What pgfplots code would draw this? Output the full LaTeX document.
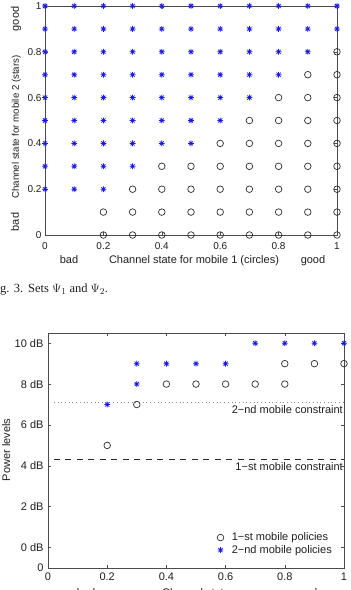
\documentclass[border=0pt]{standalone}
\usepackage{pgfplots}
\pgfplotsset{compat=1.18}
\usepackage{pgfplotstable}
\usepackage{fontspec}
\setmainfont{Liberation Sans}
\newfontfamily\capfont{Liberation Serif}

\definecolor{starblue}{RGB}{25,25,235}
\definecolor{ringgray}{RGB}{45,45,45}
\definecolor{axgray}{RGB}{75,75,75}
\definecolor{txt}{RGB}{30,30,30}

% eight-spoke asterisk, as in MATLAB's '*' marker
\pgfdeclareplotmark{mstar}{%
  \pgfmathsetlengthmacro{\d}{0.7071*\pgfplotmarksize}%
  \pgfpathmoveto{\pgfqpoint{-\pgfplotmarksize}{0pt}}%
  \pgfpathlineto{\pgfqpoint{\pgfplotmarksize}{0pt}}%
  \pgfpathmoveto{\pgfqpoint{0pt}{-\pgfplotmarksize}}%
  \pgfpathlineto{\pgfqpoint{0pt}{\pgfplotmarksize}}%
  \pgfpathmoveto{\pgfqpoint{-\d}{-\d}}%
  \pgfpathlineto{\pgfqpoint{\d}{\d}}%
  \pgfpathmoveto{\pgfqpoint{-\d}{\d}}%
  \pgfpathlineto{\pgfqpoint{\d}{-\d}}%
  \pgfusepathqstroke}

% Fig. 3: channel-state pairs assigned to mobile 1 (circles) and mobile 2 (stars)
\pgfplotstableread{
x   y
0.2 0.0
0.3 0.0
0.4 0.0
0.5 0.0
0.6 0.0
0.7 0.0
0.8 0.0
0.9 0.0
1.0 0.0
0.2 0.1
0.3 0.1
0.4 0.1
0.5 0.1
0.6 0.1
0.7 0.1
0.8 0.1
0.9 0.1
1.0 0.1
0.3 0.2
0.4 0.2
0.5 0.2
0.6 0.2
0.7 0.2
0.8 0.2
0.9 0.2
1.0 0.2
0.4 0.3
0.5 0.3
0.6 0.3
0.7 0.3
0.8 0.3
0.9 0.3
1.0 0.3
0.6 0.4
0.7 0.4
0.8 0.4
0.9 0.4
1.0 0.4
0.7 0.5
0.8 0.5
0.9 0.5
1.0 0.5
0.8 0.6
0.9 0.6
1.0 0.6
0.9 0.7
1.0 0.7
1.0 0.8
}\setOne

\pgfplotstableread{
x   y
0.0 0.2
0.1 0.2
0.2 0.2
0.0 0.3
0.1 0.3
0.2 0.3
0.3 0.3
0.0 0.4
0.1 0.4
0.2 0.4
0.3 0.4
0.4 0.4
0.5 0.4
0.0 0.5
0.1 0.5
0.2 0.5
0.3 0.5
0.4 0.5
0.5 0.5
0.6 0.5
0.0 0.6
0.1 0.6
0.2 0.6
0.3 0.6
0.4 0.6
0.5 0.6
0.6 0.6
0.7 0.6
0.0 0.7
0.1 0.7
0.2 0.7
0.3 0.7
0.4 0.7
0.5 0.7
0.6 0.7
0.7 0.7
0.8 0.7
0.0 0.8
0.1 0.8
0.2 0.8
0.3 0.8
0.4 0.8
0.5 0.8
0.6 0.8
0.7 0.8
0.8 0.8
0.9 0.8
0.0 0.9
0.1 0.9
0.2 0.9
0.3 0.9
0.4 0.9
0.5 0.9
0.6 0.9
0.7 0.9
0.8 0.9
0.9 0.9
1.0 0.9
0.0 1.0
0.1 1.0
0.2 1.0
0.3 1.0
0.4 1.0
0.5 1.0
0.6 1.0
0.7 1.0
0.8 1.0
0.9 1.0
1.0 1.0
}\setTwo

% Power levels (dB) chosen per channel state
\pgfplotstableread{
x   p
0.2 5
0.3 7
0.4 8
0.5 8
0.6 8
0.7 8
0.8 8
0.8 9
0.9 9
1.0 9
}\polOne

\pgfplotstableread{
x   p
0.2 7
0.3 8
0.3 9
0.4 9
0.5 9
0.6 9
0.7 10
0.8 10
0.9 10
1.0 10
}\polTwo

\pgfplotsset{
  matlab/.style={
    scale only axis, clip=false, anchor=south west,
    axis line style={axgray, line width=0.6pt},
    tick align=inside, major tick length=3.2pt,
    every tick/.style={axgray, line width=0.5pt},
    xtick pos=both, ytick pos=both,
    xticklabel pos=lower, yticklabel pos=left,
    ticklabel style={text=txt},
    /pgf/number format/assume math mode=true,
  },
  ring/.style={only marks, mark=o, mark size=3.3pt, ringgray, line width=0.7pt},
  star/.style={only marks, mark=mstar, mark size=2.9pt, starblue, line width=0.75pt},
}

\newcommand{\lab}{\fontsize{11}{13}\selectfont}

\begin{document}
\begin{tikzpicture}[x=1pt,y=1pt]
\useasboundingbox (0,0) rectangle (351,590);
\clip (0,0) rectangle (351,590);

% ---- upper panel: sets Psi_1 and Psi_2
\begin{axis}[matlab,
  at={(45pt,355pt)}, width=292pt, height=229pt,
  xmin=0, xmax=1, ymin=0, ymax=1,
  xtick={0,0.2,0.4,0.6,0.8,1}, ytick={0,0.2,0.4,0.6,0.8,1},
  ticklabel style={font=\fontsize{10}{12}\selectfont},
  xticklabel style={yshift=-4.3pt},
]
\addplot[ring] table[x=x, y=y] {\setOne};
\addplot[star] table[x=x, y=y] {\setTwo};
\end{axis}

% labels of the upper panel
\begin{scope}[every node/.style={font=\lab, text=txt, inner sep=0pt}]
\node[anchor=base] at (69,326) {bad};
\node[anchor=base] at (194,326) {Channel state for mobile 1 (circles)};
\node[anchor=base] at (313,326) {good};
\node[anchor=base, rotate=90] at (19,368) {bad};
\node[anchor=base, rotate=90, font=\fontsize{9.7}{12}\selectfont] at (19,463) {Channel state for mobile 2 (stars)};
\node[anchor=base, rotate=90] at (19,571) {good};
\end{scope}

% caption
\node[anchor=base west, inner sep=0pt, font=\capfont\fontsize{12.5}{14}\selectfont, text=txt] at (-10.4,297) {Fig. 3.};
\node[anchor=base west, inner sep=0pt, font=\capfont\fontsize{12.5}{14}\selectfont, text=txt] at (28,297) {Sets $\Psi_1$ and $\Psi_2$.};

% ---- lower panel: power levels
\begin{axis}[matlab,
  at={(48pt,22pt)}, width=296pt, height=235pt,
  xmin=0, xmax=1, ymin=-1, ymax=10.5,
  xtick={0,0.2,0.4,0.6,0.8,1},
  ytick={-1,0,2,4,6,8,10},
  yticklabels={0,0 dB,2 dB,4 dB,6 dB,8 dB,10 dB},
  ticklabel style={font=\fontsize{11}{13}\selectfont},
  xticklabel style={yshift=-1.6pt},
  yticklabel style={xshift=-1pt},
  legend style={draw=none, fill=none, font=\lab, text=txt,
    at={(1,0)}, anchor=south east, xshift=-7pt, yshift=9pt,
    row sep=-1pt, cells={anchor=west},
    /tikz/every odd column/.append style={column sep=6pt}},
  legend cell align=left,
]
\addplot[ring] table[x=x, y=p] {\polOne};
\addplot[star] table[x=x, y=p] {\polTwo};
\addplot[black!45, line width=0.7pt, dash pattern=on 0.9pt off 2.8pt] coordinates {(0.02,7.1) (1,7.1)};
\addplot[black!85, line width=0.6pt, dash pattern=on 6pt off 5.5pt] coordinates {(0.02,4.31) (1,4.31)};
\legend{1−st mobile policies, 2−nd mobile policies}
\node[anchor=north east, font=\lab, text=txt, inner sep=0pt] at (axis cs:1,7.1) [yshift=-3pt, xshift=-1pt] {2−nd mobile constraint};
\node[anchor=north east, font=\lab, text=txt, inner sep=0pt] at (axis cs:1,4.31) [yshift=-3pt, xshift=-1pt] {1−st mobile constraint};
\end{axis}

% labels of the lower panel
\begin{scope}[every node/.style={font=\lab, text=txt, inner sep=0pt}]
\node[anchor=base, rotate=90] at (10,140) {Power levels};
\node[anchor=base] at (86,-6) {bad};
\node[anchor=base] at (196,-6) {Channel state};
\node[anchor=base] at (305,-6) {good};
\end{scope}
\end{tikzpicture}
\end{document}
